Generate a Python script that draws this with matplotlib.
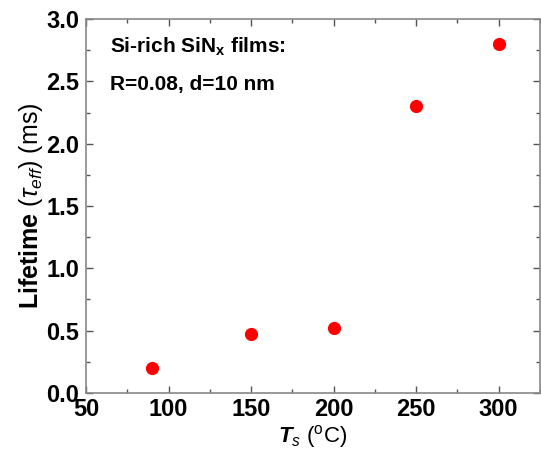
import numpy as np
import matplotlib
matplotlib.use("Agg")
import matplotlib.pyplot as plt
from matplotlib.ticker import MultipleLocator

plt.rcParams['font.family'] = ['Liberation Sans', 'DejaVu Sans']
plt.rcParams['mathtext.fontset'] = 'custom'
plt.rcParams['mathtext.rm'] = 'Liberation Sans'
plt.rcParams['mathtext.it'] = 'Liberation Sans:italic'
plt.rcParams['mathtext.bf'] = 'Liberation Sans:bold'
plt.rcParams['mathtext.bfit'] = 'Liberation Sans:italic:bold'

# substrate temperature (°C) and effective lifetime (ms)
ts_values = [90, 150, 200, 250, 300]
lifetime_ms = [0.20, 0.47, 0.52, 2.30, 2.80]

x_ticks = [50, 100, 150, 200, 250, 300]
y_ticks = [0.0, 0.5, 1.0, 1.5, 2.0, 2.5, 3.0]

fig = plt.figure(figsize=(5.41, 4.65), dpi=100)
ax = fig.add_axes([0.159, 0.155, 0.839, 0.804])

ax.plot(ts_values, lifetime_ms, 'o', color='#ff0000', markersize=9.5,
        markeredgewidth=0, clip_on=False)

ax.set_xlim(50, 325)
ax.set_ylim(0, 3.0)
ax.set_xticks(x_ticks)
ax.set_yticks(y_ticks)
ax.set_yticklabels([f'{v:.1f}' for v in y_ticks])
ax.xaxis.set_minor_locator(MultipleLocator(25))
ax.yaxis.set_minor_locator(MultipleLocator(0.25))

for s in ax.spines.values():
    s.set_color('#888888')
    s.set_linewidth(1.2)
ax.tick_params(which='both', direction='in', top=True, right=True,
               color='#555555', width=1.0)
ax.tick_params(which='major', length=5, labelsize=17)
ax.tick_params(axis='y', which='major', pad=5)
ax.tick_params(axis='x', which='major', pad=4)
ax.tick_params(which='minor', length=3)
for lbl in ax.get_xticklabels() + ax.get_yticklabels():
    lbl.set_fontweight('bold')

ax.set_ylabel(r'$\mathbf{Lifetime}$ ($\tau_{eff}$) (ms)', fontsize=18, labelpad=1)
ax.set_xlabel(r'$\mathbfit{T}_{s}$ ($^{\rm o}$C)', fontsize=16, labelpad=1)

ax.text(0.053, 0.909, 'Si-rich SiN$_{\\mathbf{x}}$ films:', transform=ax.transAxes,
        fontsize=15, fontweight='bold', va='baseline')
ax.text(0.053, 0.81, 'R=0.08, d=10 nm', transform=ax.transAxes,
        fontsize=15, fontweight='bold', va='baseline')

fig.savefig('out.png', dpi=100)
